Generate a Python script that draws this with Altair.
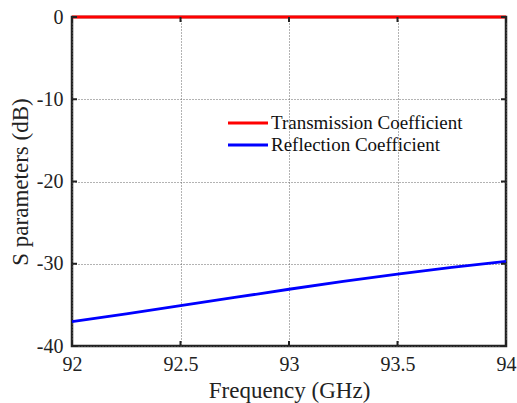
import altair as alt
import pandas as pd

freq = [92.0, 92.25, 92.5, 92.75, 93.0, 93.25, 93.5, 93.75, 94.0]
transmission = [0.0, 0.0, 0.0, 0.0, 0.0, 0.0, 0.0, 0.0, 0.0]
reflection = [-37.05, -36.1, -35.1, -34.1, -33.1, -32.15, -31.25, -30.45, -29.7]
series_names = ["Transmission Coefficient", "Reflection Coefficient"]
series_colors = ["#ff0000", "#0000ff"]
x_ticks = [92, 92.5, 93, 93.5, 94]
y_ticks = [-40, -30, -20, -10, 0]

rows = []
for f, t, r in zip(freq, transmission, reflection):
    rows.append({"f": f, "v": t, "s": series_names[0]})
    rows.append({"f": f, "v": r, "s": series_names[1]})
df = pd.DataFrame(rows)

W, H = 434, 329
FONT = "Liberation Serif"

xs = alt.Scale(domain=[92, 94], nice=False, zero=False)
ys = alt.Scale(domain=[-40, 0], nice=False, zero=False)
cs = alt.Scale(domain=series_names, range=series_colors)

common = dict(tickSize=0, labelFontSize=20, titleFontSize=23, labelFlush=False,
              labelFont=FONT, titleFont=FONT, labelColor="#222222", titleColor="#222222",
              titleFontWeight="normal", labelFontWeight="normal",
              grid=True, gridDash=[1, 2], gridColor="#666666", gridWidth=1, domain=False)

lines = alt.Chart(df).mark_line(strokeWidth=2.8).encode(
    x=alt.X("f:Q", scale=xs, title="Frequency (GHz)",
            axis=alt.Axis(values=x_ticks, labelPadding=8, titlePadding=5,
                          labelExpr="format(datum.value, '~g')", **common)),
    y=alt.Y("v:Q", scale=ys, title="S parameters (dB)",
            axis=alt.Axis(values=y_ticks, labelPadding=9, titlePadding=4,
                          labelExpr="datum.value < 0 ? '-' + abs(datum.value) : '' + datum.value",
                          **common)),
    color=alt.Color("s:N", scale=cs, legend=None),
)

# manual legend, one row per series
leg_layers = []
leg_rows_y = [106, 128]
for name, ypix in zip(series_names, leg_rows_y):
    ld = pd.DataFrame({"s": [name]})
    leg_layers.append(alt.Chart(ld).mark_rule(strokeWidth=2.8).encode(
        x=alt.value(156), x2=alt.value(196), y=alt.value(ypix),
        color=alt.Color("s:N", scale=cs, legend=None)))
    leg_layers.append(alt.Chart(ld).mark_text(
        align="left", baseline="middle", font=FONT, fontSize=19, color="#111111").encode(
        x=alt.value(199), y=alt.value(ypix), text="s:N"))

xt = pd.DataFrame({"t": x_ticks})
yt = pd.DataFrame({"t": y_ticks})
x_bot = alt.Chart(xt).mark_rule(color="#222222", strokeWidth=2).encode(
    x=alt.X("t:Q", scale=xs), y=alt.value(H), y2=alt.value(H - 5))
x_top = alt.Chart(xt).mark_rule(color="#222222", strokeWidth=2).encode(
    x=alt.X("t:Q", scale=xs), y=alt.value(0), y2=alt.value(5))
y_left = alt.Chart(yt).mark_rule(color="#222222", strokeWidth=2).encode(
    y=alt.Y("t:Q", scale=ys), x=alt.value(0), x2=alt.value(5))
y_right = alt.Chart(yt).mark_rule(color="#222222", strokeWidth=2).encode(
    y=alt.Y("t:Q", scale=ys), x=alt.value(W), x2=alt.value(W - 5))

chart = alt.layer(lines, x_bot, x_top, y_left, y_right, *leg_layers).properties(
    width=W, height=H,
    autosize=alt.AutoSizeParams(type="none"),
    padding={"left": 72, "top": 17, "right": 11, "bottom": 57},
    background="white",
).configure_view(stroke="#222222", strokeWidth=2.5)

chart.save("out.html", embed_options={"renderer": "svg", "actions": False})
